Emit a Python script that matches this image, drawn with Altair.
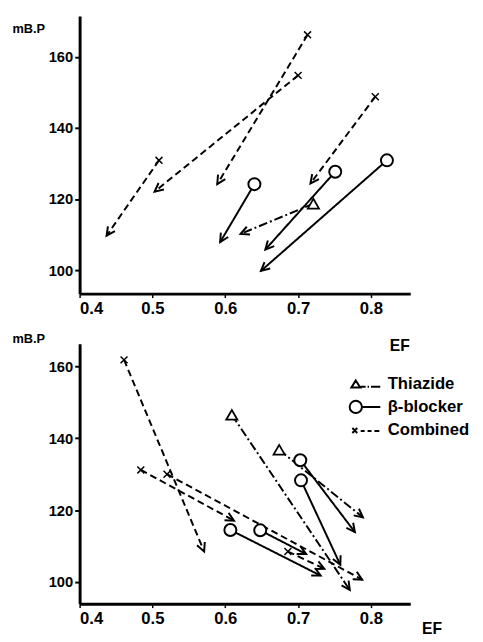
import math
import altair as alt
import pandas as pd

# ---------------- data ----------------
types_order = ["Thiazide", "β-blocker", "Combined"]

top_type = ["Combined", "Combined", "Combined", "Combined",
            "Thiazide", "β-blocker", "β-blocker", "β-blocker"]
top_ef_before = [0.713, 0.700, 0.509, 0.806, 0.721, 0.640, 0.751, 0.822]
top_bp_before = [166.2, 154.8, 130.9, 148.8, 118.7, 124.2, 127.7, 130.9]
top_ef_after = [0.589, 0.503, 0.437, 0.717, 0.621, 0.593, 0.655, 0.649]
top_bp_after = [124.2, 122.1, 109.7, 124.4, 110.2, 107.9, 105.8, 99.8]

bot_type = ["Combined", "Combined", "Combined", "Combined",
            "Thiazide", "Thiazide",
            "β-blocker", "β-blocker", "β-blocker", "β-blocker"]
bot_ef_before = [0.461, 0.484, 0.520, 0.686, 0.609, 0.674, 0.703, 0.704, 0.607, 0.648]
bot_bp_before = [161.8, 131.2, 130.0, 108.5, 146.5, 136.8, 133.9, 128.3, 114.5, 114.4]
bot_ef_after = [0.571, 0.612, 0.788, 0.736, 0.771, 0.789, 0.778, 0.758, 0.731, 0.711]
bot_bp_after = [108.5, 117.1, 100.7, 103.7, 97.8, 118.0, 113.9, 104.8, 101.8, 107.8]

x_ticks = [0.4, 0.5, 0.6, 0.7, 0.8]
y_ticks = [100, 120, 140, 160]

# ---------------- layout / style ----------------
X_DOMAIN = [0.4, 0.854]
TOP_Y = [93.4, 171.5]
BOT_Y = [94.0, 166.3]
W = 337
TOP_H = 283
BOT_H = 265
FONT = "Liberation Sans"

dashes = [[9, 3, 2, 3], [1, 0], [7, 4]]
marker_style = {
    "Thiazide": dict(shape="triangle-up", size=130, strokeWidth=1.8),
    "β-blocker": dict(shape="circle", size=150, strokeWidth=2),
    "Combined": dict(shape="M-1,-1L1,1M-1,1L1,-1", size=50, strokeWidth=1.5),
}
ARROW = "M-0.5,1L0,0L0.5,1"

legend_paths = [
    # triangle + dash-dot line
    "M-4,-0.8L-3.1,0.65L-4.9,0.65Z"
    "M-3.0,0.5L-2.0,0.5M-1.6,0.5L-1.3,0.5M-0.9,0.5L1,0.5",
    # open circle + solid line
    "M-2.75,0A1.25,1.25 0 1,1 -5.25,0A1.25,1.25 0 1,1 -2.75,0M-2.75,0L1,0",
    # x + dashes
    "M-4.7,-0.5L-3.7,0.5M-4.7,0.5L-3.7,-0.5"
    "M-3.0,0.1L-2.2,0.1M-1.6,0.1L-0.8,0.1M-0.2,0.1L0.8,0.1",
]


def frame(types, ef0, bp0, ef1, bp1, ydom, h):
    rows = []
    for t, a, b, c, d in zip(types, ef0, bp0, ef1, bp1):
        dx = (c - a) / (X_DOMAIN[1] - X_DOMAIN[0]) * W
        dy_up = (d - b) / (ydom[1] - ydom[0]) * h
        ang = math.degrees(math.atan2(dx, dy_up)) % 360
        rows.append({"type": t, "ef0": a, "bp0": b, "ef1": c, "bp1": d, "angle": ang})
    return pd.DataFrame(rows)


def panel(df, ydom, h, y_title_y, x_title_x, x_title_y, with_legend):
    xaxis = alt.Axis(values=x_ticks, format=".1f", title="EF", grid=False,
                     domainWidth=3, domainColor="black", tickColor="black",
                     tickSize=4, tickWidth=1.5, labelFontSize=17, labelPadding=3,
                     titleX=x_title_x, titleY=x_title_y, titleAlign="right",
                     titleBaseline="middle", titleFontSize=16)
    yaxis = alt.Axis(values=y_ticks, title="mB.P", grid=False,
                     domainWidth=3, domainColor="black", tickColor="black",
                     tickSize=5, tickWidth=2, labelFontSize=15, labelPadding=2,
                     titleAngle=0, titleX=-69, titleY=y_title_y, titleAlign="left",
                     titleBaseline="middle", titleFontSize=13)
    xs = alt.Scale(domain=X_DOMAIN, nice=False, zero=False)
    ys = alt.Scale(domain=ydom, nice=False, zero=False)

    base = alt.Chart(df)
    lines = base.mark_rule(strokeWidth=2, color="black").encode(
        x=alt.X("ef0:Q", scale=xs, axis=xaxis),
        y=alt.Y("bp0:Q", scale=ys, axis=yaxis),
        x2="ef1:Q", y2="bp1:Q",
        strokeDash=alt.StrokeDash("type:N", scale=alt.Scale(domain=types_order, range=dashes),
                                  legend=None),
    )
    heads = base.mark_point(shape=ARROW, size=300, filled=False, color="black",
                            strokeWidth=2, opacity=1).encode(
        x=alt.X("ef1:Q", scale=xs, axis=xaxis),
        y=alt.Y("bp1:Q", scale=ys, axis=yaxis),
        angle=alt.Angle("angle:Q", scale=None),
    )
    layers = [lines, heads]
    for t in types_order:
        st = marker_style[t]
        layers.append(
            base.transform_filter(alt.datum.type == t).mark_point(
                filled=True, fill="white", stroke="black", opacity=1, **st
            ).encode(
                x=alt.X("ef0:Q", scale=xs, axis=xaxis),
                y=alt.Y("bp0:Q", scale=ys, axis=yaxis),
            )
        )
    ch = None
    if with_legend:
        leg = base.mark_point(opacity=0, color="black").encode(
            x=alt.X("ef0:Q", scale=xs, axis=xaxis),
            y=alt.Y("bp0:Q", scale=ys, axis=yaxis),
            shape=alt.Shape("type:N", scale=alt.Scale(domain=types_order, range=legend_paths),
                            legend=alt.Legend(orient="none", legendX=293, legendY=33,
                                              title=None, padding=0, rowPadding=4,
                                              symbolSize=100, symbolOpacity=1,
                                              symbolStrokeColor="black",
                                              symbolFillColor="transparent",
                                              symbolStrokeWidth=2, labelOffset=4,
                                              labelFont=FONT, labelFontSize=17,
                                              labelFontWeight="bold", labelColor="black")),
        )
        layers.append(leg)
        ch = alt.layer(*layers).properties(width=W, height=h).resolve_scale(
            shape="independent")
    else:
        ch = alt.layer(*layers).properties(width=W, height=h)
    return ch


top_df = frame(top_type, top_ef_before, top_bp_before, top_ef_after, top_bp_after, TOP_Y, TOP_H)
bot_df = frame(bot_type, bot_ef_before, bot_bp_before, bot_ef_after, bot_bp_after, BOT_Y, BOT_H)

top = panel(top_df, TOP_Y, TOP_H, 13, 336, 53, False)
bot = panel(bot_df, BOT_Y, BOT_H, -5, 369, 25, True)

chart = alt.vconcat(top, bot, spacing=51, bounds="flush").properties(
    padding={"left": 4, "top": 2, "right": 5, "bottom": 5}
).configure_view(stroke=None).configure_axis(
    labelFont=FONT, labelFontWeight="bold", labelColor="black",
    titleFont=FONT, titleFontWeight="bold", titleColor="black",
)

chart.save("out.html", embed_options={"renderer": "svg", "actions": False})
